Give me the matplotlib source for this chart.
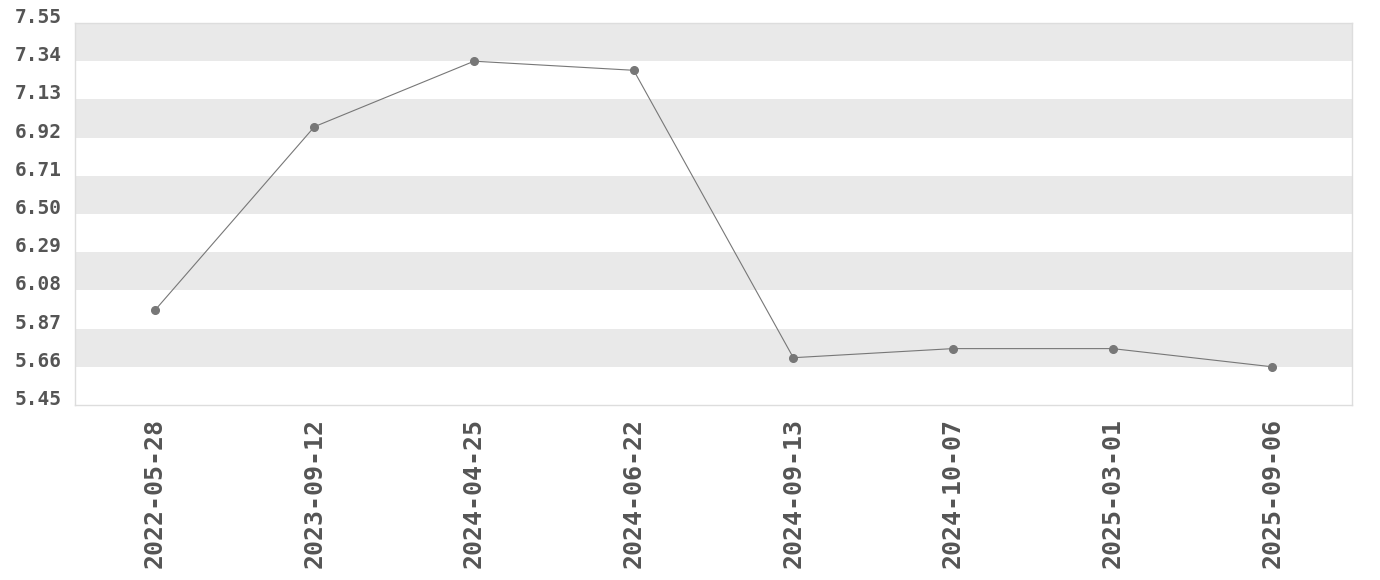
import matplotlib
matplotlib.use('Agg')
import matplotlib.pyplot as plt
import numpy as np

# data
dates = ['2022-05-28', '2023-09-12', '2024-04-25', '2024-06-22',
         '2024-09-13', '2024-10-07', '2025-03-01', '2025-09-06']
values = [5.97, 6.98, 7.34, 7.29, 5.71, 5.76, 5.76, 5.66]
y_ticks = [5.45, 5.66, 5.87, 6.08, 6.29, 6.50, 6.71, 6.92, 7.13, 7.34, 7.55]

W, H = 1380, 580
fig = plt.figure(figsize=(W / 100, H / 100), dpi=100)
ax = fig.add_axes([75 / W, 1 - 405 / H, (1352 - 75) / W, (405 - 23) / H])

# alternating grey bands, top band grey
for i in range(len(y_ticks) - 1):
    if (len(y_ticks) - 2 - i) % 2 == 0:
        ax.axhspan(y_ticks[i], y_ticks[i + 1], color='#e9e9e9', lw=0, zorder=0)

x = np.arange(len(dates))
ax.plot(x, values, color='#777777', lw=0.8, marker='o', ms=5.5, zorder=3)

ax.set_xlim(-0.5, len(dates) - 0.5)
ax.set_ylim(y_ticks[0], y_ticks[-1])
ax.set_yticks(y_ticks)
ax.set_yticklabels(['%.2f' % v for v in y_ticks])
ax.set_xticks(x)
ax.set_xticklabels(dates, rotation=90)

ax.tick_params(length=0)
ax.tick_params(axis='y', pad=9.5, labelsize=14, labelcolor='#555555')
ax.tick_params(axis='x', pad=9, labelsize=18, labelcolor='#555555')
for lab in ax.get_yticklabels():
    lab.set_fontfamily('DejaVu Sans Mono')
    lab.set_fontweight('bold')
    lab.set_va('baseline')
for lab in ax.get_xticklabels():
    lab.set_fontfamily('DejaVu Sans Mono')
    lab.set_fontweight('bold')

for s in ax.spines.values():
    s.set_color('#dddddd')
    s.set_linewidth(1)

fig.savefig('out.png', dpi=100)
